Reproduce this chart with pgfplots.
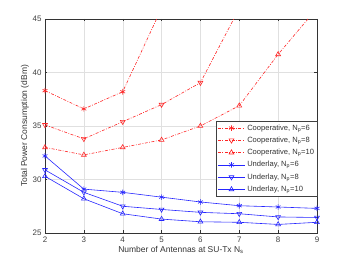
\documentclass[border=0pt]{standalone}
\usepackage{fontspec}
\setmainfont{Liberation Sans}
\usepackage{pgfplots}
\pgfplotsset{compat=1.18}
\definecolor{mred}{rgb}{1,0.15,0.15}
\definecolor{mblue}{rgb}{0.15,0.15,1}
\begin{document}
\begin{tikzpicture}[x=1bp,y=1bp]
\begin{axis}[
  at={(0,0)}, anchor=south west,
  scale only axis, width=272bp, height=214bp,
  xmin=2, xmax=9, ymin=25, ymax=45,
  xtick={2,...,9}, ytick={25,30,...,45},
  grid=major, major grid style={draw=black!12, line width=0.4pt},
  axis line style={draw=black!80, line width=0.5pt},
  tick style={draw=black!80},
  tick align=inside, major tick length=2.5bp,
  xtick pos=both, ytick pos=both,
  /pgf/number format/assume math mode=true,
  tick label style={font=\fontsize{8}{9}\selectfont, text=black!75},
  label style={font=\fontsize{8.5}{10}\selectfont, text=black!80},
  xlabel={Number of Antennas at SU-Tx N\textsubscript{s}},
  ylabel={Total Power Consumption (dBm)},
  xlabel style={yshift=3bp},
  ylabel style={yshift=-3bp},
  legend style={at={(1.003,0.17)}, anchor=south east, font=\fontsize{7.6}{9}\selectfont,
    draw=black!75, line width=0.5pt, fill=white, inner sep=1.5bp, row sep=1.3bp,
    text=black!80},
  legend cell align=left,
  legend image code/.code={\draw[#1] (0bp,0bp) -- (27bp,0bp); \draw[#1,solid] plot coordinates {(13.5bp,0bp)};},
  every axis plot/.append style={line width=0.6pt, mark size=2.8pt},
  clip=true,
]
\addplot[mred, dash pattern=on 3pt off 1.5pt on 0.8pt off 1.5pt, mark=asterisk, mark options={solid}] coordinates {
 (2,38.3) (3,36.6) (4,38.2) (5,46.0) (6,52) (7,58) (8,64) (9,70)};
\addlegendentry{Cooperative, N\textsubscript{p}=6}
\addplot[mred, dash pattern=on 3pt off 1.5pt on 0.8pt off 1.5pt, mark=triangle, mark options={solid, rotate=180}] coordinates {
 (2,35.1) (3,33.8) (4,35.4) (5,37.0) (6,39.05) (7,46.0) (8,53) (9,60)};
\addlegendentry{Cooperative, N\textsubscript{p}=8}
\addplot[mred, dash pattern=on 3pt off 1.5pt on 0.8pt off 1.5pt, mark=triangle, mark options={solid}] coordinates {
 (2,33.0) (3,32.3) (4,33.0) (5,33.7) (6,35.0) (7,36.9) (8,41.7) (9,46.0)};
\addlegendentry{Cooperative, N\textsubscript{p}=10}
\addplot[mblue, mark=asterisk] coordinates {
 (2,32.2) (3,29.1) (4,28.8) (5,28.35) (6,27.9) (7,27.55) (8,27.43) (9,27.3)};
\addlegendentry{Underlay, N\textsubscript{p}=6}
\addplot[mblue, mark=triangle, mark options={rotate=180}] coordinates {
 (2,30.9) (3,28.8) (4,27.5) (5,27.2) (6,26.93) (7,26.8) (8,26.5) (9,26.45)};
\addlegendentry{Underlay, N\textsubscript{p}=8}
\addplot[mblue, mark=triangle] coordinates {
 (2,30.3) (3,28.2) (4,26.8) (5,26.3) (6,26.05) (7,26.0) (8,25.8) (9,26.0)};
\addlegendentry{Underlay, N\textsubscript{p}=10}
\end{axis}
\path[use as bounding box] (-45bp,-30bp) rectangle (305bp,233bp);
\end{tikzpicture}
\end{document}
